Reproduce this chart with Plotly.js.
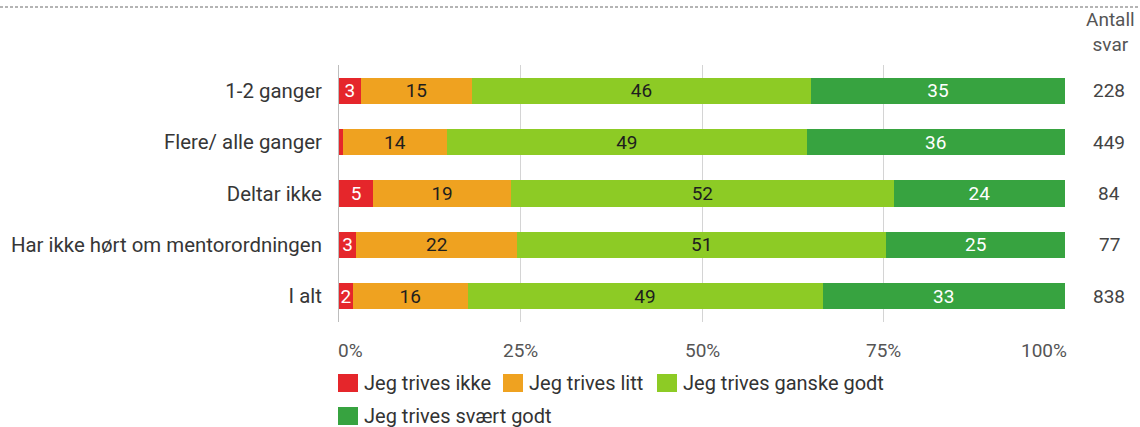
<!DOCTYPE html>
<html>
<head>
<meta charset="utf-8">
<script src="https://cdn.plot.ly/plotly-3.0.1.min.js"></script>
<style>
html,body{margin:0;padding:0;background:#fff;}
#chart{width:1140px;height:427px;}
</style>
</head>
<body>
<div id="chart"></div>
<script>
// Categories (top to bottom)
var categories = ["1-2 ganger", "Flere/ alle ganger", "Deltar ikke", "Har ikke hørt om mentorordningen", "I alt"];
// Series names
var seriesNames = ["Jeg trives ikke", "Jeg trives litt", "Jeg trives ganske godt", "Jeg trives svært godt"];
// Segment shares (%)
var ikke    = [3.0, 0.5, 4.7, 2.4, 1.9];
var litt    = [15.3, 14.4, 19.0, 22.1, 15.8];
var ganske  = [46.7, 49.5, 52.7, 50.9, 48.9];
var svaert  = [35.0, 35.6, 23.6, 24.6, 33.4];
// Labels printed in the segments
var ikkeLbl   = ["3", "", "5", "3", "2"];
var littLbl   = ["15", "14", "19", "22", "16"];
var ganskeLbl = ["46", "49", "52", "51", "49"];
var svaertLbl = ["35", "36", "24", "25", "33"];
// Number of answers
var antall = [228, 449, 84, 77, 838];
// X axis ticks
var tickVals = [0, 25, 50, 75, 100];
var tickText = ["0%", "25%", "50%", "75%", "100%"];

var colors = ["#E5262B", "#EFA220", "#8DCB25", "#37A340"];
var textColors = ["#ffffff", "#1e1e1e", "#1e1e1e", "#ffffff"];
var values = [ikke, litt, ganske, svaert];
var labels = [ikkeLbl, littLbl, ganskeLbl, svaertLbl];

var font = "Roboto, 'Noto Sans', sans-serif";

// plot-area geometry (pixels) used to place legend & side texts
var W = 1140, H = 427, ML = 339, MR = 75, MT = 65, MB = 105;
var PW = W - ML - MR, PH = H - MT - MB;
function px(xp){ return (xp - ML) / PW; }
function py(yp){ return (H - MB - yp) / PH; }

var traces = values.map(function(v, i){
  return {
    type: "bar",
    orientation: "h",
    name: seriesNames[i],
    y: categories,
    x: v,
    text: labels[i],
    texttemplate: "%{text}",
    textposition: "inside",
    insidetextanchor: "middle",
    constraintext: "none",
    textangle: 0,
    insidetextfont: {family: font, size: 19, color: textColors[i]},
    marker: {color: colors[i], line: {width: 0}},
    hoverinfo: "skip",
    showlegend: false
  };
});

var annotations = [];
var shapes = [];
// x tick labels
tickVals.forEach(function(t, i){
  var anchor = (i === 0) ? "left" : (i === tickVals.length - 1 ? "right" : "center");
  annotations.push({
    x: t, xref: "x", y: py(337), yref: "paper", yanchor: "top",
    xanchor: anchor, text: tickText[i], showarrow: false,
    xshift: (i === 0 ? -3 : (i === tickVals.length - 1 ? 4 : 0)),
    font: {family: font, size: 19, color: "#555555"}
  });
});
// Antall svar header
annotations.push({
  x: px(1110), xref: "paper", y: py(58), yref: "paper", yanchor: "bottom", xanchor: "center",
  text: "Antall<br>svar", showarrow: false, align: "center",
  font: {family: font, size: 19, color: "#555555"}
});
// Antall svar values
antall.forEach(function(n, i){
  annotations.push({
    x: px(1109), xref: "paper", y: categories[i], yref: "y", xanchor: "center",
    text: String(n), showarrow: false,
    font: {family: font, size: 19, color: "#444444"}
  });
});

// Legend (two rows, as in the reference)
var legendItems = [
  {sx: 338, row: 0}, {sx: 503, row: 0}, {sx: 657, row: 0}, {sx: 338, row: 1}
];
var rowCenters = [383, 416];
legendItems.forEach(function(it, i){
  var cy = rowCenters[it.row];
  shapes.push({
    type: "rect", xref: "paper", yref: "paper",
    x0: px(it.sx), x1: px(it.sx + 20), y0: py(cy - 9), y1: py(cy + 9),
    fillcolor: colors[i], line: {width: 0}
  });
  annotations.push({
    x: px(it.sx + 24), xref: "paper", y: py(cy), yref: "paper",
    xanchor: "left", yanchor: "middle", text: seriesNames[i], showarrow: false,
    font: {family: font, size: 20, color: "#333333"}
  });
});

// dashed separator at the top
shapes.push({
  type: "line", xref: "paper", yref: "paper",
  x0: px(0), x1: px(1140), y0: py(7), y1: py(7),
  line: {color: "#6a6a6a", width: 1, dash: "3px,2px"}
});

var layout = {
  width: W, height: H,
  margin: {l: ML, r: MR, t: MT, b: MB, pad: 0},
  paper_bgcolor: "#ffffff", plot_bgcolor: "#ffffff",
  barmode: "stack",
  bargap: 0.49,
  font: {family: font, size: 19, color: "#333333"},
  xaxis: {
    range: [0, 100], tickvals: tickVals, showticklabels: false,
    showgrid: true, gridcolor: "#d4d4d4", gridwidth: 1,
    zeroline: false, showline: false, fixedrange: true
  },
  yaxis: {
    type: "category", autorange: "reversed",
    ticks: "outside", ticklen: 12, tickcolor: "rgba(0,0,0,0)",
    showline: true, linecolor: "#bdbdbd", linewidth: 1,
    showgrid: false, zeroline: false,
    tickfont: {family: font, size: 20.4, color: "#363636"}
  },
  showlegend: false,
  annotations: annotations,
  shapes: shapes
};

Plotly.newPlot("chart", traces, layout, {displayModeBar: false, staticPlot: true});
</script>
</body>
</html>
